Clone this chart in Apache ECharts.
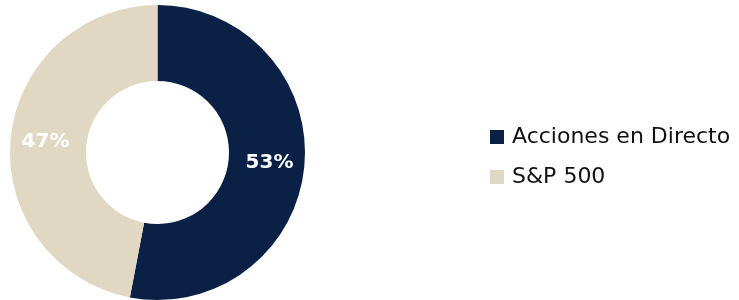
<!DOCTYPE html>
<html>
<head>
<meta charset="utf-8">
<script src="https://cdn.jsdelivr.net/npm/echarts@6/dist/echarts.min.js"></script>
<style>
    html, body { margin: 0; padding: 0; background: #fff; }
    #main { width: 739px; height: 300px; }
</style>
</head>
<body>
<div id="main"></div>
<script>
// Chart data
const categories = ["Acciones en Directo", "S&P 500"];
const values = [53, 47];
const colors = ["#0b2045", "#e0d8c3"];

const chart = echarts.init(document.getElementById("main"));

const options = {
    animation: false,
    legend: {
        orient: "vertical",
        left: 485,
        top: 120,
        itemWidth: 14,
        itemHeight: 14,
        itemGap: 16,
        icon: "rect",
        textStyle: {
            fontFamily: "DejaVu Sans",
            fontSize: 22,
            lineHeight: 24,
            color: "#111111",
            padding: [0, 0, 0, 3],
        },
        data: categories,
    },
    series: [
        {
            type: "pie",
            center: [157.5, 152.5],
            radius: [71.5, 147.5],
            startAngle: 90,
            clockwise: true,
            label: {
                show: true,
                position: "inside",
                formatter: "{c}%",
                color: "#ffffff",
                fontFamily: "DejaVu Sans",
                fontWeight: "bold",
                fontSize: 20,
            },
            labelLine: { show: false },
            itemStyle: { borderWidth: 0 },
            emphasis: { disabled: true },
            data: categories.map((name, i) => ({
                name: name,
                value: values[i],
                itemStyle: { color: colors[i] },
            })),
        },
    ],
};

chart.setOption(options);
</script>
</body>
</html>
